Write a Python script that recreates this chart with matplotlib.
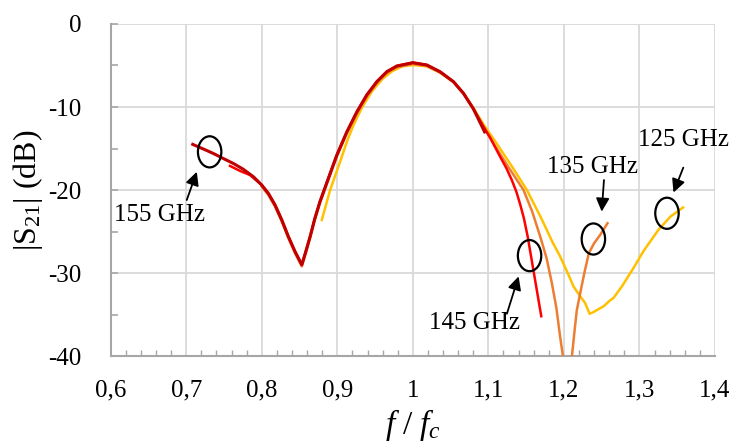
import matplotlib
matplotlib.use("Agg")
import matplotlib.pyplot as plt
from matplotlib.patches import Ellipse
from matplotlib.ticker import MultipleLocator, FuncFormatter

plt.rcParams['font.family'] = ['Liberation Serif', 'DejaVu Serif']
plt.rcParams['mathtext.fontset'] = 'custom'
plt.rcParams['mathtext.rm'] = 'Liberation Serif'
plt.rcParams['mathtext.it'] = 'Liberation Serif:italic'

# ---- data ----
x155 = [0.7086, 0.7227, 0.736, 0.749, 0.7624, 0.7756, 0.789, 0.800, 0.8087, 0.8176, 0.8265,
        0.8352, 0.844, 0.853, 0.858, 0.864, 0.870, 0.877, 0.8905, 0.8993, 0.9126, 0.9258,
        0.939, 0.9523, 0.9655, 0.9788, 1.0, 1.0185, 1.036, 1.0538, 1.067, 1.080, 1.095]
y155 = [-14.5, -15.06, -15.6, -16.2, -16.8, -17.5, -18.4, -19.4, -20.4, -21.8, -23.6,
        -25.6, -27.4, -29.0, -27.5, -25.6, -23.5, -21.4, -18.0, -15.8, -13.0, -10.6,
        -8.55, -6.95, -5.75, -5.06, -4.66, -4.94, -5.75, -6.95, -8.35, -10.2, -13.0]

x145 = [0.758, 0.7713, 0.7845, 0.800, 0.8087, 0.8176, 0.8265, 0.8352, 0.844, 0.853, 0.858,
        0.864, 0.870, 0.877, 0.8905, 0.8993, 0.9126, 0.9258, 0.939, 0.9523, 0.9655, 0.9788,
        1.0, 1.0185, 1.036, 1.0538, 1.067, 1.080, 1.0924, 1.1024, 1.1156, 1.124, 1.131,
        1.137, 1.142, 1.147, 1.152, 1.158, 1.164, 1.170]
y145 = [-17.1, -17.7, -18.2, -19.4, -20.4, -21.8, -23.6, -25.6, -27.4, -29.0, -27.5,
        -25.6, -23.5, -21.4, -18.0, -15.8, -13.0, -10.6, -8.55, -6.95, -5.75, -5.06,
        -4.66, -4.94, -5.75, -6.95, -8.35, -10.2, -12.2, -13.7, -16.0, -17.4, -18.8,
        -20.2, -21.7, -23.4, -25.6, -28.8, -32.0, -35.2]

x135 = [0.800, 0.8087, 0.8176, 0.8265, 0.8352, 0.844, 0.853, 0.858, 0.864, 0.870, 0.877,
        0.8905, 0.8993, 0.9126, 0.9258, 0.939, 0.9523, 0.9655, 0.9788, 1.0, 1.0185, 1.036,
        1.0538, 1.067, 1.080, 1.095, 1.1067, 1.127, 1.1465, 1.158, 1.1686, 1.177, 1.184,
        1.190, 1.195, 1.2035, 1.2106, 1.214, 1.217, 1.2216, 1.227, 1.233, 1.240, 1.248, 1.2577]
y135 = [-19.6, -20.6, -22.0, -23.8, -25.8, -27.6, -29.2, -27.7, -25.8, -23.7, -21.6,
        -18.2, -16.0, -13.2, -10.8, -8.75, -7.1, -5.9, -5.2, -4.8, -5.05, -5.85,
        -7.0, -8.4, -10.2, -12.6, -14.4, -17.3, -20.0, -22.6, -25.6, -28.2, -31.2,
        -34.2, -37.7, -43.0, -40.0, -37.0, -34.5, -32.4, -30.0, -27.6, -26.4, -25.4, -24.0]

x125 = [0.8795, 0.8905, 0.9037, 0.9126, 0.9213, 0.933, 0.946, 0.960, 0.9725, 0.986, 1.0,
        1.0185, 1.036, 1.0538, 1.067, 1.080, 1.095, 1.111, 1.130, 1.151, 1.170, 1.185,
        1.195, 1.205, 1.2126, 1.220, 1.228, 1.234, 1.239, 1.2525, 1.261, 1.2656, 1.2768,
        1.292, 1.305, 1.325, 1.341, 1.3577]
y125 = [-23.6, -20.0, -16.6, -14.2, -12.2, -10.0, -8.1, -6.6, -5.7, -5.1, -4.95,
        -5.1, -5.85, -7.0, -8.35, -10.1, -12.3, -14.4, -17.0, -20.0, -23.4, -26.3,
        -28.0, -30.0, -31.6, -32.6, -33.6, -34.9, -34.7, -34.0, -33.3, -33.0, -31.6,
        -29.4, -27.4, -24.8, -23.2, -22.1]

labels = ['155 GHz', '145 GHz', '135 GHz', '125 GHz']
colors = ['#C00000', '#FF0000', '#ED7D31', '#FFC000']

fig = plt.figure(figsize=(7.32, 4.44), dpi=100)
ax = fig.add_axes([0.1512, 0.198, 0.8256, 0.748])

ax.plot(x125, y125, color=colors[3], lw=1.8, zorder=3, solid_joinstyle='round')
ax.plot(x135, y135, color=colors[2], lw=1.8, zorder=4, solid_joinstyle='round')
ax.plot(x145, y145, color=colors[1], lw=1.8, zorder=5, solid_joinstyle='round')
ax.plot(x155, y155, color=colors[0], lw=2.2, zorder=6, solid_joinstyle='round')

ax.set_xlim(0.6, 1.4)
ax.set_ylim(-40, 0)
ax.xaxis.set_major_locator(MultipleLocator(0.1))
ax.xaxis.set_minor_locator(MultipleLocator(0.02))
ax.yaxis.set_major_locator(MultipleLocator(10))
ax.yaxis.set_minor_locator(MultipleLocator(5))

def xfmt(v, pos):
    s = ('%.1f' % v)
    if s.endswith('.0'):
        s = s[:-2]
    return s.replace('.', ',')
ax.xaxis.set_major_formatter(FuncFormatter(xfmt))
ax.yaxis.set_major_formatter(FuncFormatter(lambda v, p: '%d' % v))

ax.grid(True, which='major', color='#D9D9D9', lw=1.3)
ax.set_axisbelow(True)
for s in ['top', 'right']:
    ax.spines[s].set_visible(False)
for s in ['left', 'bottom']:
    ax.spines[s].set_color('#A6A6A6')
    ax.spines[s].set_linewidth(1.5)

ax.tick_params(axis='x', which='major', direction='in', length=0, pad=17, labelsize=18)
ax.tick_params(axis='x', which='minor', direction='in', length=4, color='#A6A6A6', width=1)
ax.tick_params(axis='y', which='major', direction='in', length=5, pad=21, labelsize=18, color='#A6A6A6', width=1.2)
ax.tick_params(axis='y', which='minor', direction='in', length=5, color='#A6A6A6', width=1.2)

ax.set_ylabel(r'|S$_{\mathrm{21}}$| (dB)', fontsize=23, labelpad=2)
ax.set_xlabel(r'$f\ /\ f_c$', fontsize=24, labelpad=4)

# circles
ellipses = [(0.731, -15.4), (1.1545, -27.9), (1.239, -25.9), (1.3364, -22.8)]
for (cx, cy) in ellipses:
    ax.add_patch(Ellipse((cx, cy), 0.031, 3.75, fill=False, ec='black', lw=1.6, zorder=8))

# annotations
ann = [
    ('155 GHz', (0.714, -17.8), (0.665, -23.0), (0.7007, -21.2)),
    ('145 GHz', (1.140, -30.4), (1.082, -36.0), (1.1245, -34.9)),
    ('135 GHz', (1.250, -22.6), (1.2377, -17.2), (1.253, -18.8)),
    ('125 GHz', (1.345, -20.3), (1.358, -14.0), (1.358, -17.3)),
]
for txt, tip, tpos, tail in ann:
    ax.text(tpos[0], tpos[1], txt, fontsize=18, ha='center', va='center', zorder=9)
    ax.annotate('', xy=tip, xytext=tail,
                arrowprops=dict(arrowstyle='-|>', color='black', lw=1.3, mutation_scale=20,
                                shrinkA=0, shrinkB=0), zorder=9)

fig.savefig('out.png', dpi=100)
